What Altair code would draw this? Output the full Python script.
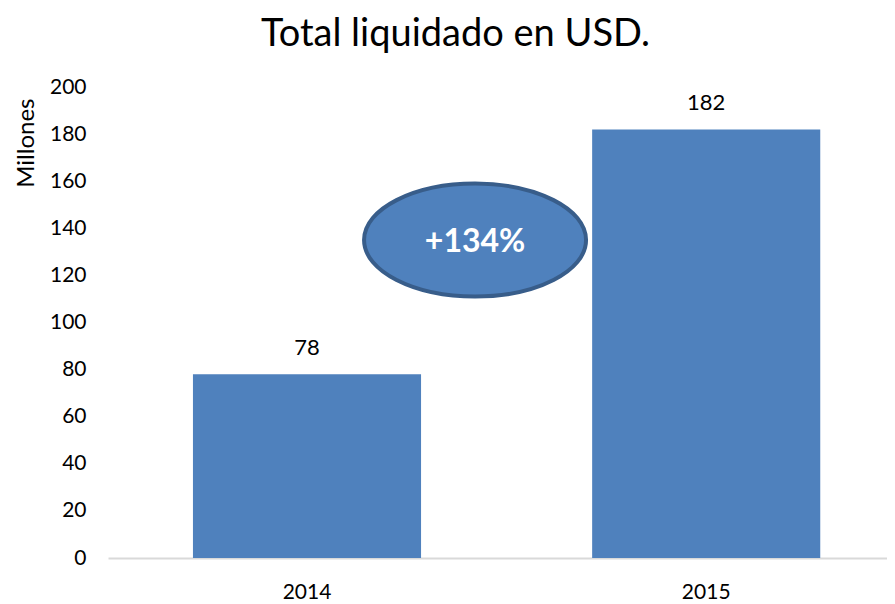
import altair as alt
import pandas as pd

years = ["2014", "2015"]
values = [78, 182]
y_ticks = [0, 20, 40, 60, 80, 100, 120, 140, 160, 180, 200]
note_text = ["+134%"]
note_year = ["2014"]
note_value = [135]

FONT = "Lato"
BLUE = "#4f81bd"

bars_df = pd.DataFrame({"year": years, "value": values})
note_df = pd.DataFrame({"year": note_year, "value": note_value, "label": note_text})

x_scale = alt.Scale(domain=years, paddingInner=0.4286, paddingOuter=0.19, align=0.56)
y_scale = alt.Scale(domain=[0, 200], nice=False)

x_enc = alt.X(
    "year:N",
    scale=x_scale,
    title=None,
    axis=alt.Axis(
        labelAngle=0,
        labelFont=FONT,
        labelFontSize=21,
        labelColor="#000000",
        labelPadding=23,
        ticks=False,
        tickSize=0,
        domainColor="#d9d9d9",
        domainWidth=2,
        grid=False,
    ),
)
y_enc = alt.Y(
    "value:Q",
    scale=y_scale,
    title="Millones",
    axis=alt.Axis(
        values=y_ticks,
        labelFont=FONT,
        labelFontSize=21,
        labelColor="#000000",
        labelPadding=22,
        ticks=False,
        tickSize=0,
        domain=False,
        grid=False,
        titleFont=FONT,
        titleFontSize=24,
        titleFontWeight="normal",
        titleColor="#000000",
        titleAngle=270,
        titleX=-82,
        titleY=11,
        titleAlign="right",
        titleBaseline="middle",
    ),
)

bars = alt.Chart(bars_df).mark_bar(color=BLUE).encode(x=x_enc, y=y_enc)

labels = alt.Chart(bars_df).mark_text(
    font=FONT, fontSize=22, color="#000000", baseline="bottom", dy=-14
).encode(x=alt.X("year:N", scale=x_scale), y=alt.Y("value:Q", scale=y_scale), text="value:Q")

ellipse_path = "M -1 0 A 1 0.509 0 1 1 1 0 A 1 0.509 0 1 1 -1 0 Z"
ellipse = alt.Chart(note_df).mark_point(
    shape=ellipse_path, size=49284, filled=True, fill=BLUE, stroke="#385d8a",
    strokeWidth=4, opacity=1, fillOpacity=1, strokeOpacity=1, xOffset=54,
).encode(
    x=alt.X("year:N", scale=x_scale, bandPosition=1),
    y=alt.Y("value:Q", scale=y_scale),
)

note_label = alt.Chart(note_df).mark_text(
    font=FONT, fontSize=32, fontWeight="bold", color="#ffffff", baseline="middle", dy=2, dx=54
).encode(
    x=alt.X("year:N", scale=x_scale, bandPosition=1),
    y=alt.Y("value:Q", scale=y_scale),
    text="label:N",
)

chart = (
    alt.layer(bars, labels, ellipse, note_label)
    .properties(
        width=779,
        height=471,
        autosize=alt.AutoSizeParams(type="none"),
        padding={"left": 100, "top": 79, "right": 0, "bottom": 44},
        title=alt.TitleParams(
            "Total liquidado en USD.",
            font=FONT,
            fontSize=38,
            fontWeight="normal",
            color="#000000",
            anchor="middle",
            frame="group",
            dx=-42,
            dy=-18,
        ),
    )
    .configure_view(stroke=None)
)

chart.save("out.html", embed_options={"renderer": "svg", "actions": False})
